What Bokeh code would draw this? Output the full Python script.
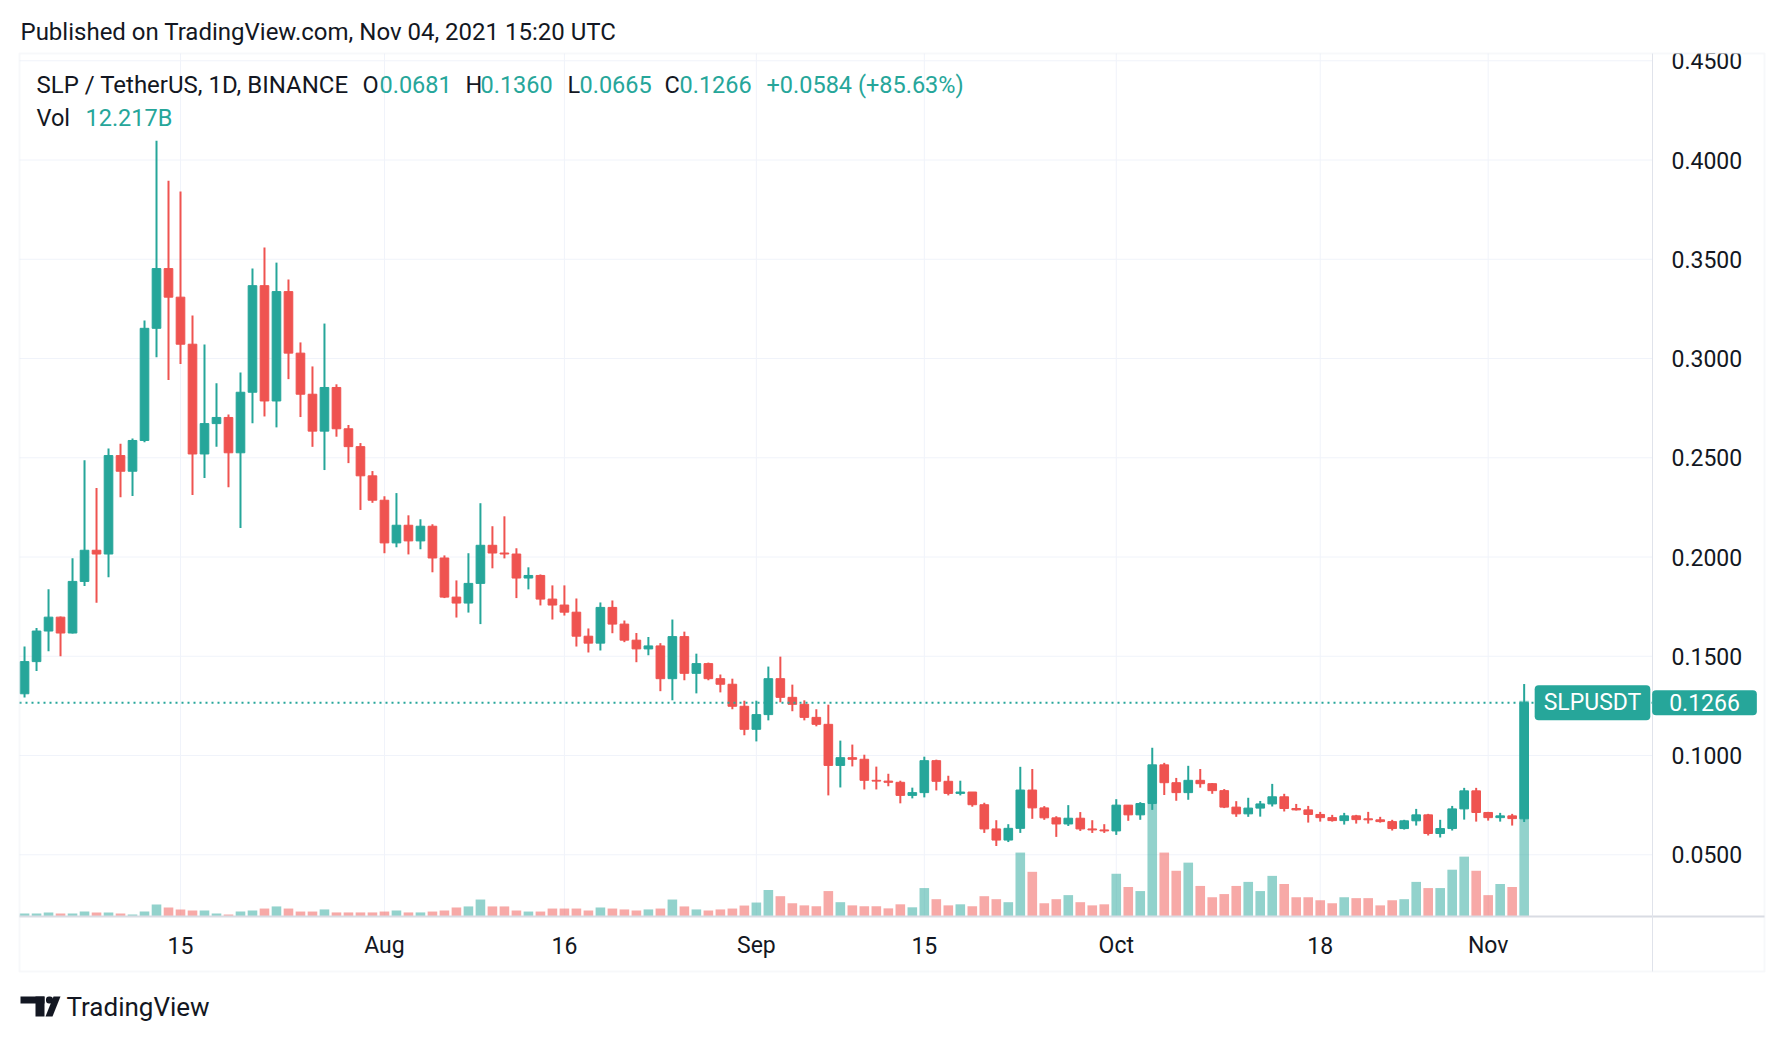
import numpy as np
import pandas as pd
from bokeh.plotting import figure
from bokeh.models import (Range1d, Label, BoxAnnotation, PolyAnnotation, ColumnDataSource)
from bokeh.core.properties import value
from bokeh.embed import file_html
from bokeh.resources import INLINE

# ---------------- data ----------------
dates = pd.date_range("2021-07-02", "2021-11-04", freq="D")

opens = [
    0.1311, 0.1473, 0.1627, 0.1697, 0.1617, 0.1877, 0.2034, 0.2015, 0.2511, 0.2432,
    0.2587, 0.3152, 0.3453, 0.3309, 0.3072, 0.2519, 0.2672, 0.2703, 0.2525, 0.2830,
    0.3367, 0.2786, 0.3337, 0.3027, 0.2820, 0.2634, 0.2854, 0.2646, 0.2556, 0.2409,
    0.2286, 0.2071, 0.2160, 0.2081, 0.2155, 0.1995, 0.1798, 0.1768, 0.1867, 0.2059,
    0.2020, 0.2015, 0.1894, 0.1907, 0.1788, 0.1758, 0.1722, 0.1601, 0.1566, 0.1746,
    0.1662, 0.1581, 0.1537, 0.1552, 0.1387, 0.1599, 0.1414, 0.1463, 0.1387, 0.1359,
    0.1248, 0.1132, 0.1206, 0.1387, 0.1293, 0.1258, 0.1192, 0.1157, 0.0950, 0.0989,
    0.0981, 0.0875, 0.0871, 0.0865, 0.0799, 0.0813, 0.0974, 0.0870, 0.0809, 0.0816,
    0.0752, 0.0630, 0.0574, 0.0633, 0.0826, 0.0736, 0.0686, 0.0655, 0.0684, 0.0630,
    0.0625, 0.0620, 0.0750, 0.0701, 0.0758, 0.0953, 0.0863, 0.0813, 0.0875, 0.0858,
    0.0823, 0.0740, 0.0706, 0.0735, 0.0756, 0.0792, 0.0733, 0.0726, 0.0703, 0.0687,
    0.0672, 0.0696, 0.0681, 0.0676, 0.0667, 0.0632, 0.0671, 0.0701, 0.0607, 0.0632,
    0.0731, 0.0822, 0.0713, 0.0687, 0.0696, 0.0681,
]
highs = [
    0.1549, 0.1642, 0.1837, 0.1700, 0.1994, 0.2487, 0.2347, 0.2547, 0.2570, 0.2597,
    0.3191, 0.4097, 0.3896, 0.3841, 0.3216, 0.3070, 0.2875, 0.2718, 0.2930, 0.3453,
    0.3559, 0.3483, 0.3398, 0.3081, 0.2960, 0.3176, 0.2870, 0.2665, 0.2574, 0.2433,
    0.2306, 0.2322, 0.2210, 0.2190, 0.2165, 0.2008, 0.1882, 0.2019, 0.2271, 0.2155,
    0.2205, 0.2044, 0.1948, 0.1912, 0.1857, 0.1857, 0.1791, 0.1640, 0.1771, 0.1781,
    0.1680, 0.1617, 0.1597, 0.1566, 0.1685, 0.1624, 0.1513, 0.1468, 0.1408, 0.1387,
    0.1276, 0.1276, 0.1448, 0.1498, 0.1357, 0.1278, 0.1233, 0.1256, 0.1075, 0.1055,
    0.1004, 0.0944, 0.0908, 0.0873, 0.0838, 0.0994, 0.0979, 0.0898, 0.0873, 0.0816,
    0.0762, 0.0674, 0.0654, 0.0943, 0.0932, 0.0745, 0.0694, 0.0750, 0.0715, 0.0674,
    0.0654, 0.0780, 0.0750, 0.0765, 0.1039, 0.0963, 0.0887, 0.0948, 0.0932, 0.0861,
    0.0831, 0.0770, 0.0787, 0.0771, 0.0857, 0.0807, 0.0756, 0.0746, 0.0716, 0.0701,
    0.0711, 0.0701, 0.0716, 0.0691, 0.0676, 0.0676, 0.0731, 0.0706, 0.0676, 0.0746,
    0.0837, 0.0837, 0.0716, 0.0711, 0.0706, 0.1360,
]
lows = [
    0.1292, 0.1426, 0.1525, 0.1500, 0.1614, 0.1854, 0.1769, 0.1898, 0.2301, 0.2307,
    0.2578, 0.3006, 0.2892, 0.2972, 0.2312, 0.2398, 0.2555, 0.2352, 0.2146, 0.2674,
    0.2708, 0.2653, 0.2896, 0.2705, 0.2555, 0.2438, 0.2606, 0.2473, 0.2237, 0.2273,
    0.2019, 0.2049, 0.2013, 0.2039, 0.1923, 0.1793, 0.1695, 0.1720, 0.1662, 0.1943,
    0.1993, 0.1793, 0.1837, 0.1756, 0.1685, 0.1705, 0.1549, 0.1519, 0.1529, 0.1616,
    0.1571, 0.1470, 0.1505, 0.1324, 0.1278, 0.1379, 0.1313, 0.1379, 0.1318, 0.1233,
    0.1102, 0.1071, 0.1177, 0.1268, 0.1223, 0.1177, 0.1147, 0.0799, 0.0839, 0.0945,
    0.0829, 0.0829, 0.0845, 0.0759, 0.0784, 0.0789, 0.0824, 0.0799, 0.0799, 0.0742,
    0.0610, 0.0544, 0.0564, 0.0610, 0.0681, 0.0676, 0.0590, 0.0645, 0.0620, 0.0610,
    0.0610, 0.0600, 0.0671, 0.0676, 0.0726, 0.0801, 0.0772, 0.0777, 0.0838, 0.0807,
    0.0735, 0.0691, 0.0691, 0.0692, 0.0743, 0.0718, 0.0723, 0.0662, 0.0667, 0.0667,
    0.0652, 0.0657, 0.0657, 0.0662, 0.0622, 0.0627, 0.0647, 0.0597, 0.0587, 0.0622,
    0.0677, 0.0667, 0.0672, 0.0667, 0.0647, 0.0665,
]
closes = [
    0.1473, 0.1627, 0.1697, 0.1617, 0.1877, 0.2034, 0.2015, 0.2511, 0.2432, 0.2587,
    0.3152, 0.3453, 0.3309, 0.3072, 0.2519, 0.2672, 0.2703, 0.2525, 0.2830, 0.3367,
    0.2786, 0.3337, 0.3027, 0.2820, 0.2634, 0.2854, 0.2646, 0.2556, 0.2409, 0.2286,
    0.2071, 0.2160, 0.2081, 0.2155, 0.1995, 0.1798, 0.1768, 0.1867, 0.2059, 0.2020,
    0.2015, 0.1894, 0.1907, 0.1788, 0.1758, 0.1722, 0.1601, 0.1566, 0.1746, 0.1662,
    0.1581, 0.1537, 0.1552, 0.1387, 0.1599, 0.1414, 0.1463, 0.1387, 0.1359, 0.1248,
    0.1132, 0.1206, 0.1387, 0.1293, 0.1258, 0.1192, 0.1157, 0.0950, 0.0989, 0.0981,
    0.0875, 0.0871, 0.0865, 0.0799, 0.0813, 0.0974, 0.0870, 0.0809, 0.0816, 0.0752,
    0.0630, 0.0574, 0.0633, 0.0826, 0.0736, 0.0686, 0.0655, 0.0684, 0.0630, 0.0625,
    0.0620, 0.0750, 0.0701, 0.0758, 0.0953, 0.0863, 0.0813, 0.0875, 0.0858, 0.0823,
    0.0740, 0.0706, 0.0735, 0.0756, 0.0792, 0.0733, 0.0726, 0.0703, 0.0687, 0.0672,
    0.0696, 0.0677, 0.0676, 0.0667, 0.0632, 0.0671, 0.0701, 0.0607, 0.0632, 0.0731,
    0.0822, 0.0713, 0.0687, 0.0696, 0.0682, 0.1266,
]
volumes_b = [
    0.17, 0.17, 0.23, 0.17, 0.17, 0.28, 0.23, 0.23, 0.17, 0.11,
    0.28, 0.68, 0.51, 0.40, 0.34, 0.34, 0.17, 0.11, 0.28, 0.34,
    0.45, 0.57, 0.45, 0.28, 0.28, 0.40, 0.23, 0.23, 0.23, 0.23,
    0.28, 0.34, 0.23, 0.23, 0.28, 0.34, 0.51, 0.57, 0.96, 0.57,
    0.57, 0.34, 0.28, 0.28, 0.45, 0.45, 0.45, 0.34, 0.51, 0.45,
    0.40, 0.34, 0.40, 0.45, 0.96, 0.57, 0.40, 0.34, 0.40, 0.45,
    0.62, 0.79, 1.50, 1.15, 0.75, 0.63, 0.58, 1.44, 0.81, 0.63,
    0.58, 0.58, 0.46, 0.69, 0.52, 1.61, 0.98, 0.63, 0.69, 0.58,
    1.15, 0.98, 0.81, 3.62, 2.53, 0.75, 0.98, 1.21, 0.81, 0.63,
    0.69, 2.42, 1.67, 1.44, 6.38, 3.62, 2.59, 3.05, 1.73, 1.09,
    1.27, 1.73, 1.96, 1.44, 2.30, 1.84, 1.09, 1.09, 0.92, 0.75,
    1.09, 1.04, 1.04, 0.63, 0.92, 0.98, 1.96, 1.61, 1.61, 2.65,
    3.39, 2.59, 1.21, 1.84, 1.67, 12.217,
]

tick_dates = ["2021-07-15", "2021-08-01", "2021-08-16", "2021-09-01",
              "2021-09-15", "2021-10-01", "2021-10-18", "2021-11-01"]
tick_labels = ["15", "Aug", "16", "Sep", "15", "Oct", "18", "Nov"]
price_ticks = [0.05, 0.10, 0.15, 0.20, 0.25, 0.30, 0.35, 0.40, 0.45]

symbol = "SLP / TetherUS, 1D, BINANCE"
published = "Published on TradingView.com, Nov 04, 2021 15:20 UTC"
ticker_name = "SLPUSDT"
brand = "TradingView"

# ---------------- styling / layout ----------------
FONT = "Roboto"
TEXT = "#131722"
UP = "#26a69a"
DOWN = "#ef5350"
UP_VOL = "rgba(38,166,154,0.5)"
DOWN_VOL = "rgba(239,83,80,0.5)"
GRID = "#f0f3fa"
BORDER = "#e0e3eb"

W, H = 1776, 1030
PANE_L, PANE_R, PANE_T, PANE_B = 19, 1652, 53, 916   # price pane (canvas px)
OUTER_R, OUTER_B = 1764, 971                          # right / bottom of the chart box
PX_DAY = 11.997                                       # px per day
PX_UNIT = 1985.0                                      # px per 1.0 of price
REF_PX, REF_PY = 180.0, 159.5                         # canvas px of first tick / of 0.40

n = len(dates)
x = np.arange(n)
tick_idx = [int(dates.get_loc(pd.Timestamp(d))) for d in tick_dates]


def xd(px):
    return tick_idx[0] + (px - REF_PX) / PX_DAY


def yd(py):
    return 0.40 + (REF_PY - py) / PX_UNIT


o = np.array(opens); h = np.array(highs); l = np.array(lows); c = np.array(closes)
v = np.array(volumes_b)
up = c >= o

src = ColumnDataSource(dict(
    x=x, high=h, low=l, vol=v,
    top=np.maximum(o, c), bottom=np.minimum(o, c),
    color=np.where(up, UP, DOWN), vcolor=np.where(up, UP_VOL, DOWN_VOL),
))

p = figure(width=W, height=H, output_backend="svg", toolbar_location=None, title=None,
           x_range=Range1d(xd(0), xd(W)), y_range=Range1d(yd(H), yd(0)),
           x_axis_location=None, y_axis_location=None, min_border=0)
p.background_fill_color = "white"
p.border_fill_color = "white"
p.outline_line_color = None
p.xgrid.visible = False
p.ygrid.visible = False

# volume occupies the lower quarter of the price pane
vol_px = (PANE_B - PANE_T) * 0.25
u = max(volumes_b) / vol_px
p.extra_y_ranges = {"vol": Range1d(-(H - PANE_B) * u, PANE_B * u)}

# grid lines restricted to the price pane
p.segment(x0=tick_idx, x1=tick_idx, y0=yd(PANE_B), y1=yd(PANE_T),
          line_color=GRID, line_width=1)
p.segment(x0=xd(PANE_L), x1=xd(PANE_R), y0=price_ticks, y1=price_ticks,
          line_color=GRID, line_width=1)

# volume, then candles
p.vbar(x="x", width=0.8, top="vol", bottom=0, source=src, y_range_name="vol",
       fill_color="vcolor", line_color=None)
p.segment(x0="x", y0="low", x1="x", y1="high", source=src, line_color="color", line_width=2)
p.vbar(x="x", width=0.72, top="top", bottom="bottom", source=src,
       fill_color="color", line_color="color", line_width=1)

# last price dotted line
p.segment(x0=xd(PANE_L), x1=xd(PANE_R), y0=closes[-1], y1=closes[-1],
          line_color=UP, line_width=2, line_dash="2 4")

# axis tick labels (time axis and price axis)
p.text(x=tick_idx, y=yd(945), text=tick_labels, text_font=value(FONT),
       text_font_size="23px", text_color=TEXT, text_align="center", text_baseline="middle")
p.text(x=xd(1671), y=price_ticks, text=[f"{t:.4f}" for t in price_ticks],
       text_font=value(FONT), text_font_size="23px", text_color=TEXT,
       text_align="left", text_baseline="middle")


def box(left, right, top, bottom, **kw):
    # canvas px (y down) -> frame screen units (y up)
    return BoxAnnotation(left=left, right=right, top=H - top, bottom=H - bottom,
                         left_units="screen", right_units="screen",
                         top_units="screen", bottom_units="screen", **kw)


# hide the part of the top price label above the pane, then draw the chart box
p.add_layout(box(PANE_R + 1, W, 0, PANE_T, fill_color="white", fill_alpha=1, line_color=None))
p.add_layout(box(PANE_L, OUTER_R, PANE_T, OUTER_B, fill_alpha=0,
                 line_color="#e6e8ee", line_width=2))
p.add_layout(box(PANE_L, OUTER_R, PANE_B - 1, PANE_B + 1, fill_color="#d9dce3",
                 fill_alpha=1, line_color=None))
p.add_layout(box(PANE_R - 0.5, PANE_R + 0.5, PANE_T, OUTER_B, fill_color=BORDER,
                 fill_alpha=1, line_color=None))


def lab(text, px, py, color=TEXT, size="23.5px", align="left", data_y=None, **kw):
    if data_y is None:
        return Label(x=px, y=H - py, x_units="screen", y_units="screen", text=text,
                     text_font=FONT, text_font_size=size, text_color=color,
                     text_align=align, text_baseline="middle", **kw)
    return Label(x=px, y=data_y, x_units="screen", y_units="data", text=text,
                 text_font=FONT, text_font_size=size, text_color=color,
                 text_align=align, text_baseline="middle", **kw)


def fmt(val):
    return f"{val:.4f}"


chg = closes[-1] - closes[-2]
pct = chg / closes[-2] * 100

p.add_layout(lab(published, 20, 31, size="24px"))
L1, L2 = 84, 117.5
p.add_layout(lab(symbol, 36, L1, size="24px"))
for letter, val, lx, vx in [("O", opens[-1], 362, 379), ("H", highs[-1], 465, 480),
                            ("L", lows[-1], 567, 579), ("C", closes[-1], 664, 679)]:
    p.add_layout(lab(letter, lx, L1))
    p.add_layout(lab(fmt(val), vx, L1, color=UP))
p.add_layout(lab(f"+{chg:.4f} (+{pct:.2f}%)", 766, L1, color=UP))
p.add_layout(lab("Vol", 36, L2))
p.add_layout(lab(f"{volumes_b[-1]:.3f}B", 85, L2, color=UP))

# last price labels (symbol tag inside the pane, value tag on the price scale)
p.add_layout(lab(ticker_name, 1592, 0, color="white", size="23px", align="center",
                 data_y=closes[-1], background_fill_color=UP, padding=(9, 4), border_radius=4))
p.add_layout(lab(fmt(closes[-1]), 1704, 0, color="white", size="23px", align="center",
                 data_y=closes[-1], background_fill_color=UP, padding=(17, 4), border_radius=4))

# TradingView logo
p.add_layout(lab(brand, 66, 1006, size="26px"))
p.add_layout(box(20, 44, 996, 1003, fill_color=TEXT, fill_alpha=1, line_color=None))
p.add_layout(box(35, 44, 996, 1016, fill_color=TEXT, fill_alpha=1, line_color=None))
p.add_layout(box(45.5, 52.5, 996, 1003, fill_color=TEXT, fill_alpha=1, line_color=None,
                 border_radius=3))
p.add_layout(PolyAnnotation(xs=[53, 60, 52, 45], ys=[H - 996, H - 996, H - 1016, H - 1016],
                            xs_units="screen", ys_units="screen",
                            fill_color=TEXT, fill_alpha=1, line_color=None))

open("out.html", "w").write(file_html(p, INLINE, "SLP / TetherUS"))
